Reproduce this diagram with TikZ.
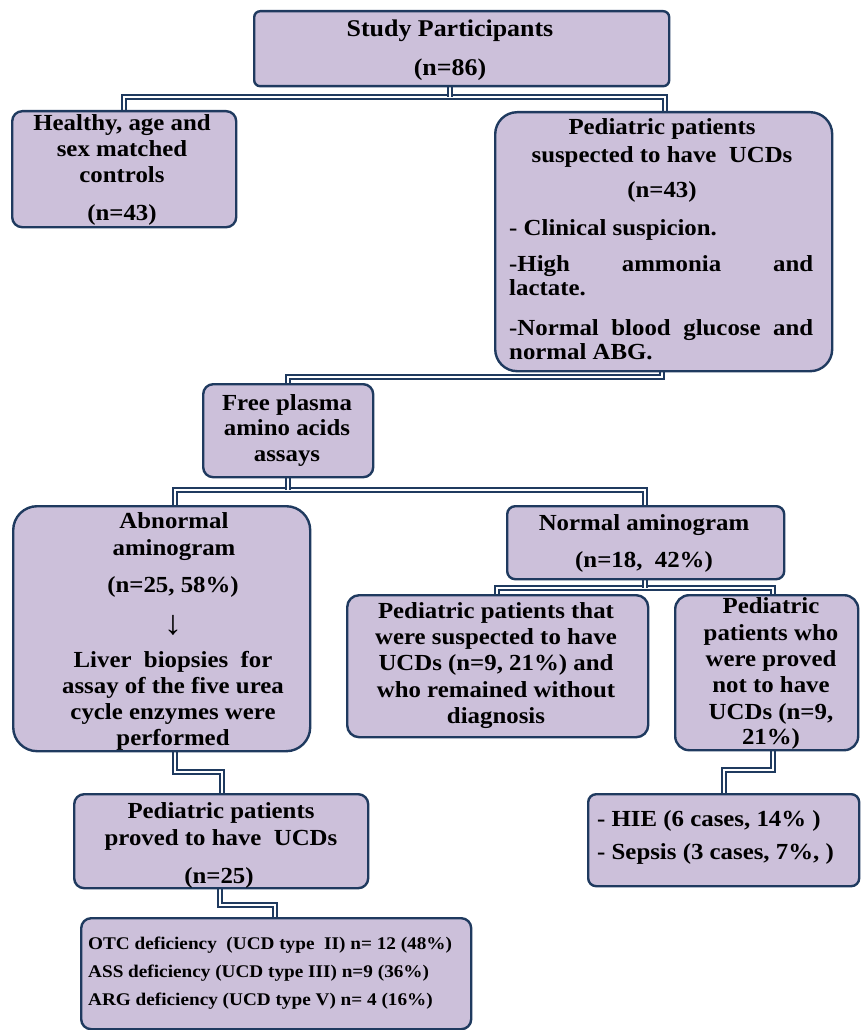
\documentclass[tikz,border=0pt]{standalone}
\usepackage{fontspec}
\newfontfamily\tnr[FakeStretch=1.08]{Liberation Serif}
\usetikzlibrary{calc}
\definecolor{boxfill}{HTML}{CCC0DA}
\definecolor{boxline}{HTML}{1F3A5F}
\pgfdeclarelayer{background}
\pgfsetlayers{background,main}
\tikzset{
  box/.style={draw=boxline, fill=boxfill, line width=2.4pt, inner sep=0pt, anchor=north west, rectangle},
  tx/.style={anchor=base, inner sep=0pt, font=\tnr\bfseries\fontsize{23}{26}\selectfont},
  txl/.style={tx, anchor=base west},
  txs/.style={anchor=base west, inner sep=0pt, font=\tnr\bfseries\fontsize{17.8}{20}\selectfont},
  conn/.style={draw=boxline, line width=2pt, double=white, double distance=1.6pt},
}
\begin{document}
\begin{tikzpicture}[x=1pt,y=-1pt]
\useasboundingbox (0,0) rectangle (860,1030);
% boxes
\node[box, rounded corners=6pt, minimum width=415pt, minimum height=75pt] (study) at (253,10) {};
\node[box, rounded corners=10pt, minimum width=224pt, minimum height=116pt] (healthy) at (11,110) {};
\node[box, rounded corners=22pt, minimum width=337pt, minimum height=259pt] (rightbox) at (494,111) {};
\node[box, rounded corners=10pt, minimum width=170pt, minimum height=93pt] (free) at (202,383) {};
\node[box, rounded corners=24pt, minimum width=297pt, minimum height=245pt] (abn) at (12,505) {};
\node[box, rounded corners=8pt, minimum width=277pt, minimum height=73pt] (normal) at (506,505) {};
\node[box, rounded corners=12pt, minimum width=301pt, minimum height=142pt] (box7) at (346,594) {};
\node[box, rounded corners=14pt, minimum width=183pt, minimum height=155pt] (box8) at (674,594) {};
\node[box, rounded corners=8pt, minimum width=271pt, minimum height=92pt] (hie) at (587,793) {};
\node[box, rounded corners=10pt, minimum width=294pt, minimum height=94pt] (proved) at (73,793) {};
\node[box, rounded corners=10pt, minimum width=390pt, minimum height=111pt] (otc) at (80,917) {};
% connectors
\coordinate (j1) at (450,97);
\coordinate (j1r) at (665,97);
\coordinate (j2) at (288,377);
\coordinate (j2r) at (662,377);
\coordinate (j3l) at (175,490);
\coordinate (j3r) at (645,490);
\coordinate (j3m) at (288,490);
\coordinate (j4l) at (497,588);
\coordinate (j4r) at (773,588);
\coordinate (j4m) at (645,588);
\coordinate (j5a) at (773,770);
\coordinate (j5b) at (724,770);
\coordinate (j6a) at (175,772);
\coordinate (j6b) at (222,772);
\coordinate (j7a) at (220,905);
\coordinate (j7b) at (275,905);
\begin{pgfonlayer}{background}
\draw[conn] (healthy.north) |- (j1) -- (j1r) -- (rightbox.north -| j1r);
\draw[conn] (study.south -| j1) -- (j1);
\draw[conn] (rightbox.south -| j2r) -- (j2r) -- (j2) -- (free.north -| j2);
\draw[conn] (abn.north -| j3l) -- (j3l) -- (j3r) -- (normal.north -| j3r);
\draw[conn] (free.south -| j3m) -- (j3m);
\draw[conn] (box7.north -| j4l) -- (j4l) -- (j4r) -- (box8.north -| j4r);
\draw[conn] (normal.south -| j4m) -- (j4m);
\draw[conn] (box8.south -| j5a) -- (j5a) -- (j5b) -- (hie.north -| j5b);
\draw[conn] (abn.south -| j6a) -- (j6a) -- (j6b) -- (proved.north -| j6b);
\draw[conn] (proved.south -| j7a) -- (j7a) -- (j7b) -- (otc.north -| j7b);
\end{pgfonlayer}
% texts
\node[tx, font=\tnr\bfseries\fontsize{24}{26}\selectfont] (t01) at (450,37) {Study Participants};
\node[tx, font=\tnr\bfseries\fontsize{24}{26}\selectfont] (t02) at (450,76) {(n=86)};
\node[tx] (t03) at (122,131) {Healthy, age and};
\node[tx] (t04) at (122,157) {sex matched};
\node[tx] (t05) at (122,182) {controls};
\node[tx] (t06) at (122,220) {(n=43)};
\node[tx] (t07) at (662,135) {Pediatric patients};
\node[tx] (t08) at (662,162) {suspected to have\ \ UCDs};
\node[tx] (t09) at (662,197) {(n=43)};
\node[txl] (t10) at (509,235) {- Clinical suspicion.};
\node[txl] (t11) at (509,271) {\hbox to 304pt{-High\hfill ammonia\hfill and}};
\node[txl] (t12) at (509,295) {lactate.};
\node[txl] (t13) at (509,335) {\hbox to 304pt{-Normal\hfill blood\hfill glucose\hfill and}};
\node[txl] (t14) at (509,359) {normal ABG.};
\node[tx] (t15) at (287,410) {Free plasma};
\node[tx] (t16) at (287,435) {amino acids};
\node[tx] (t17) at (287,461) {assays};
\node[tx] (t18) at (174,528) {Abnormal};
\node[tx] (t19) at (174,555) {aminogram};
\node[tx] (t20) at (173,592) {(n=25, 58\%)};
\node[tx, font=\tnr\fontsize{34}{34}\selectfont] (t21) at (173,634) {↓};
\node[tx] (t22) at (173,667) {Liver\ \ biopsies\ \ for};
\node[tx] (t23) at (173,693) {assay of the five urea};
\node[tx] (t24) at (173,719) {cycle enzymes were};
\node[tx] (t25) at (173,745) {performed};
\node[tx] (t26) at (644,530) {Normal aminogram};
\node[tx] (t27) at (644,567) {(n=18,\ \ 42\%)};
\node[tx] (t28) at (496,618) {Pediatric patients that};
\node[tx] (t29) at (496,644) {were suspected to have};
\node[tx] (t30) at (496,670) {UCDs (n=9, 21\%) and};
\node[tx] (t31) at (496,697) {who remained without};
\node[tx] (t32) at (496,723) {diagnosis};
\node[tx] (t33) at (771,613) {Pediatric};
\node[tx] (t34) at (771,640) {patients who};
\node[tx] (t35) at (771,666) {were proved};
\node[tx] (t36) at (771,692) {not to have};
\node[tx] (t37) at (771,719) {UCDs (n=9,};
\node[tx] (t38) at (771,744) {21\%)};
\node[txl] (t39) at (597,826) {- HIE (6 cases, 14\% )};
\node[txl] (t40) at (597,859) {- Sepsis (3 cases, 7\%, )};
\node[tx] (t41) at (221,818) {Pediatric patients};
\node[tx] (t42) at (221,845) {proved to have\ \ UCDs};
\node[tx] (t43) at (219,883) {(n=25)};
\node[txs] (t44) at (88,949) {OTC deficiency\ \ (UCD type\ \ II) n= 12 (48\%)};
\node[txs] (t45) at (88,977) {ASS deficiency (UCD type III) n=9 (36\%)};
\node[txs] (t46) at (88,1005) {ARG deficiency (UCD type V) n= 4 (16\%)};
\end{tikzpicture}
\end{document}
